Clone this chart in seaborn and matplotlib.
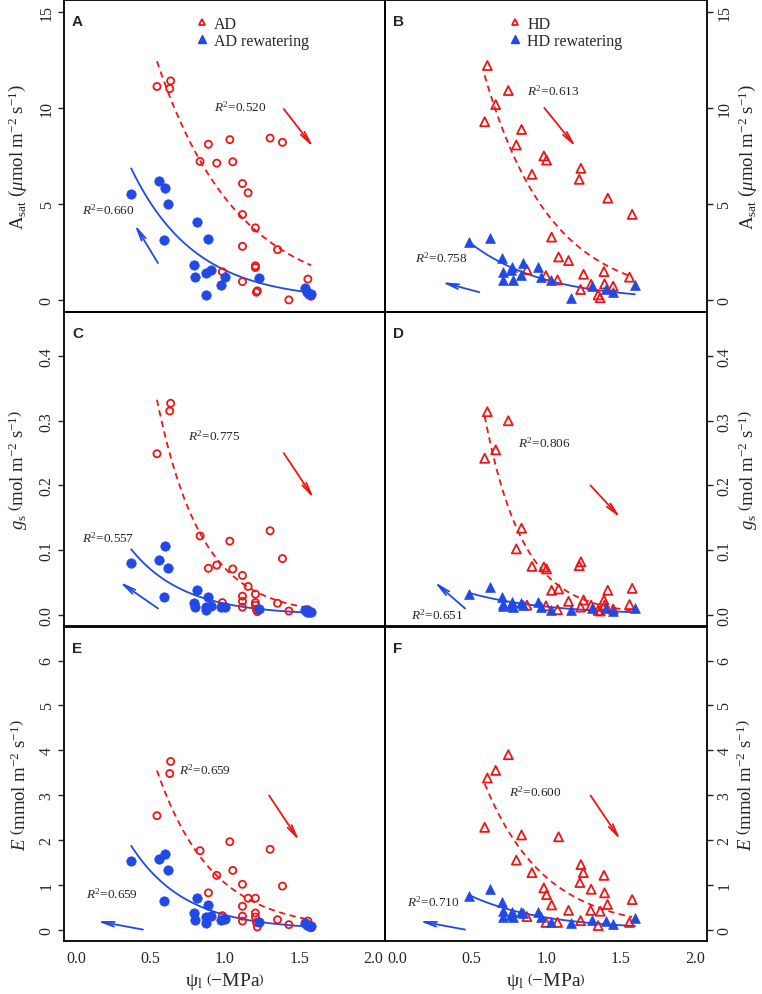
import numpy as np
import pandas as pd
import matplotlib
matplotlib.use('Agg')
import matplotlib.pyplot as plt
from matplotlib.lines import Line2D
import seaborn as sns

# -------------------------
# Data
# -------------------------
# AD leaves (panels A, C, E)
ad_x = [0.543, 0.629, 0.635, 0.833, 0.889, 0.945, 1.033, 1.053, 1.118, 1.156, 1.118, 1.205, 1.118,
        1.205, 1.205, 0.983, 1.118, 1.212, 1.218, 1.304, 1.387, 1.354, 1.430, 1.558, 1.580]
ad_asat = [11.11, 11.0, 11.4, 7.22, 8.11, 7.13, 8.35, 7.2, 6.07, 5.59, 4.46, 3.77, 2.81,
           1.80, 1.71, 1.49, 0.98, 0.43, 0.50, 8.43, 8.21, 2.64, 0.03, 1.11, 0.22]
ad_gs = [0.249, 0.315, 0.327, 0.122, 0.072, 0.077, 0.114, 0.071, 0.061, 0.044, 0.029, 0.032, 0.021,
         0.019, 0.015, 0.019, 0.012, 0.008, 0.005, 0.130, 0.087, 0.018, 0.006, 0.008, 0.004]
ad_e = [2.54, 3.48, 3.75, 1.76, 0.82, 1.21, 1.96, 1.32, 1.01, 0.70, 0.52, 0.70, 0.30,
        0.37, 0.28, 0.31, 0.19, 0.16, 0.06, 1.79, 0.97, 0.22, 0.11, 0.19, 0.04]

# AD rewatering
adr_x = [0.370, 0.554, 0.595, 0.617, 0.593, 0.813, 0.887, 0.795, 0.801, 0.871, 0.909, 0.871, 0.974,
         0.999, 1.226, 1.542, 1.549, 1.567, 1.580]
adr_asat = [5.54, 6.21, 5.83, 5.02, 3.15, 4.05, 3.17, 1.85, 1.20, 1.44, 1.58, 0.26, 0.81,
            1.22, 1.18, 0.67, 0.43, 0.34, 0.31]
adr_gs = [0.080, 0.085, 0.106, 0.072, 0.028, 0.038, 0.028, 0.018, 0.012, 0.012, 0.014, 0.007, 0.012,
          0.012, 0.009, 0.007, 0.005, 0.004, 0.004]
adr_e = [1.52, 1.58, 1.69, 1.34, 0.63, 0.70, 0.55, 0.36, 0.22, 0.28, 0.31, 0.15, 0.21,
         0.24, 0.18, 0.15, 0.11, 0.09, 0.07]

# HD leaves (panels B, D)
hd_x = [0.605, 0.587, 0.661, 0.746, 0.835, 0.800, 0.985, 1.003, 0.905, 1.234, 1.223, 1.415, 1.579, 1.037,
        1.084, 1.151, 0.871, 0.999, 1.077, 1.252, 1.389, 1.561, 1.232, 1.303, 1.393, 1.451, 1.350, 1.364]
hd_asat = [12.2, 9.28, 10.17, 10.9, 8.88, 8.07, 7.5, 7.29, 6.55, 6.86, 6.29, 5.31, 4.47, 3.29,
           2.26, 2.07, 1.60, 1.29, 1.07, 1.36, 1.50, 1.21, 0.57, 0.84, 0.86, 0.74, 0.29, 0.14]
hd_gs = [0.314, 0.242, 0.255, 0.300, 0.134, 0.102, 0.074, 0.071, 0.075, 0.082, 0.076, 0.038, 0.041, 0.038,
         0.040, 0.021, 0.015, 0.014, 0.008, 0.023, 0.023, 0.016, 0.012, 0.015, 0.015, 0.009, 0.007, 0.006]
# HD transpiration (panel F)
hd_e_x = [0.605, 0.587, 0.661, 0.746, 0.835, 0.800, 0.985, 1.003, 0.905, 1.234, 1.227, 1.250, 1.389, 1.393,
          1.303, 1.413, 1.579, 1.037, 1.084, 1.151, 0.871, 0.999, 1.077, 1.561, 1.232, 1.300, 1.364, 1.350]
hd_e = [3.38, 2.28, 3.55, 3.90, 2.11, 1.55, 0.93, 0.78, 1.27, 1.45, 1.05, 1.27, 1.21, 0.82,
        0.90, 0.56, 0.67, 0.55, 2.07, 0.43, 0.29, 0.16, 0.16, 0.16, 0.20, 0.43, 0.41, 0.09]

# HD rewatering
hdr_x = [0.482, 0.625, 0.701, 0.712, 0.708, 0.768, 0.764, 0.777, 0.831, 0.842, 0.947, 0.965, 1.032,
         1.167, 1.306, 1.402, 1.451, 1.597]
hdr_asat = [3.02, 3.22, 2.22, 1.50, 1.07, 1.72, 1.59, 1.07, 1.33, 1.93, 1.72, 1.24, 1.07,
            0.14, 0.74, 0.57, 0.43, 0.81]
hdr_gs = [0.033, 0.043, 0.027, 0.017, 0.013, 0.020, 0.015, 0.012, 0.018, 0.015, 0.020, 0.012, 0.008,
          0.007, 0.011, 0.010, 0.006, 0.011]
hdr_e = [0.75, 0.91, 0.61, 0.41, 0.28, 0.40, 0.33, 0.28, 0.39, 0.36, 0.39, 0.28, 0.16,
         0.15, 0.22, 0.19, 0.13, 0.25]

r2_labels = {'A': ('0.520', '0.660'), 'B': ('0.613', '0.758'),
             'C': ('0.775', '0.557'), 'D': ('0.806', '0.651'),
             'E': ('0.659', '0.659'), 'F': ('0.600', '0.710')}

x_ticks = [0.0, 0.5, 1.0, 1.5, 2.0]

# -------------------------
# Style
# -------------------------
sns.set_style('white')
plt.rcParams['font.family'] = ['Liberation Serif', 'DejaVu Serif']
plt.rcParams['mathtext.fontset'] = 'custom'
plt.rcParams['mathtext.rm'] = 'Liberation Serif'
plt.rcParams['mathtext.it'] = 'Liberation Serif:italic'
plt.rcParams['mathtext.bf'] = 'Liberation Serif:bold'

RED = '#EE1515'
BLUE = '#2149E6'


def exp_fit(x, y):
    # least-squares fit of y = a * exp(b * x)
    x = np.asarray(x, float)
    y = np.asarray(y, float)
    best = None
    for b in np.linspace(-10, 0, 2001):
        e = np.exp(b * x)
        a = (y @ e) / (e @ e)
        sse = ((y - a * e) ** 2).sum()
        if best is None or sse < best[0]:
            best = (sse, a, b)
    xs = np.linspace(x.min(), x.max(), 120)
    return pd.DataFrame({'x': xs, 'y': best[1] * np.exp(best[2] * xs)})


fig = plt.figure(figsize=(7.62, 9.95), dpi=100)
col_x = [0.0844, 0.5059]
col_w = 0.4215
rows = [(0.6854, 0.3136), (0.3693, 0.3161), (0.0530, 0.3164)]

# (letter, row, col, red x, red y, blue x, blue y, red marker, blue marker, ylim, yticks)
panels = [
    ('A', 0, 0, ad_x, ad_asat, adr_x, adr_asat, 'o', 'o', (-0.6, 15.6), [0, 5, 10, 15]),
    ('B', 0, 1, hd_x, hd_asat, hdr_x, hdr_asat, '^', '^', (-0.6, 15.6), [0, 5, 10, 15]),
    ('C', 1, 0, ad_x, ad_gs, adr_x, adr_gs, 'o', 'o', (-0.018, 0.468), [0.0, 0.1, 0.2, 0.3, 0.4]),
    ('D', 1, 1, hd_x, hd_gs, hdr_x, hdr_gs, '^', '^', (-0.018, 0.468), [0.0, 0.1, 0.2, 0.3, 0.4]),
    ('E', 2, 0, ad_x, ad_e, adr_x, adr_e, 'o', 'o', (-0.26, 6.76), [0, 1, 2, 3, 4, 5, 6]),
    ('F', 2, 1, hd_e_x, hd_e, hdr_x, hdr_e, '^', '^', (-0.26, 6.76), [0, 1, 2, 3, 4, 5, 6]),
]

# annotation placement: red R2 text, blue R2 text, red arrow (tail, tip), blue arrow (tail, tip)
annots = {
    'A': ((0.93, 10.06), (0.04, 4.75), ((1.396, 9.94), (1.594, 7.97)), ((0.55, 1.94), (0.393, 3.94))),
    'B': ((0.87, 10.9), (0.12, 2.24), ((0.988, 10.0), (1.20, 7.97)), ((0.551, 0.43), (0.298, 0.95))),
    'C': ((0.75, 0.277), (0.04, 0.120), ((1.396, 0.250), (1.598, 0.180)), ((0.55, 0.010), (0.292, 0.051))),
    'D': ((0.81, 0.267), (0.09, 0.001), ((1.299, 0.200), (1.50, 0.150)), ((0.455, 0.010), (0.249, 0.051))),
    'E': ((0.69, 3.57), (0.063, 0.81), ((1.297, 2.99), (1.50, 1.98)), ((0.449, 0.0), (0.141, 0.19))),
    'F': ((0.75, 3.08), (0.063, 0.64), ((1.299, 2.99), (1.50, 2.0)), ((0.455, 0.0), (0.148, 0.19))),
}

ylabels = [r'A$_{\rm sat}$ $\left(\mu{\rm mol\ m^{-2}\ s^{-1}}\right)$',
           r'$g_{\rm s}$ $\left({\rm mol\ m^{-2}\ s^{-1}}\right)$',
           r'$E$ $\left({\rm mmol\ m^{-2}\ s^{-1}}\right)$']

for letter, r, c, rx, ry, bx, by, rm, bm, ylim, yticks in panels:
    bottom, h = rows[r]
    ax = fig.add_axes([col_x[c], bottom, col_w, h])
    ax.set_facecolor('none')

    # fitted curves
    sns.lineplot(data=exp_fit(rx, ry), x='x', y='y', ax=ax, color=RED, linestyle=(0, (3.5, 2.5)),
                 linewidth=1.3, sort=False)
    sns.lineplot(data=exp_fit(bx, by), x='x', y='y', ax=ax, color=BLUE, linewidth=1.3, sort=False)

    # points
    rs = 26 if rm == 'o' else 42
    bs = 46 if bm == 'o' else 50
    sns.scatterplot(x=rx, y=ry, ax=ax, marker=rm, color=RED, facecolors='none', edgecolor=RED,
                    linewidth=1.3, s=rs, zorder=3)
    sns.scatterplot(x=bx, y=by, ax=ax, marker=bm, color=BLUE, edgecolor=BLUE, linewidth=0.5,
                    s=bs, zorder=4)

    red_txt, blue_txt, red_arr, blue_arr = annots[letter]
    r2r, r2b = r2_labels[letter]
    ax.text(red_txt[0], red_txt[1], r'$R^2$=' + r2r, fontsize=9.5, va='center', ha='left')
    ax.text(blue_txt[0], blue_txt[1], r'$R^2$=' + r2b, fontsize=9.5, va='center', ha='left')
    for (tail, tip), colr in ((red_arr, RED), (blue_arr, BLUE)):
        ax.annotate('', xy=tip, xytext=tail,
                    arrowprops=dict(arrowstyle='->,head_length=0.9,head_width=0.17',
                                    color=colr, lw=1.3, shrinkA=0, shrinkB=0))

    ax.set_xlim(-0.08, 2.08)
    ax.set_ylim(*ylim)
    ax.set_xticks(x_ticks)
    ax.set_yticks(yticks)
    if letter in 'CD':
        ax.set_yticklabels(['%.1f' % v for v in yticks])
    else:
        ax.set_yticklabels(['%g' % v for v in yticks])

    if r == 2:
        ax.set_xticklabels(['%.1f' % v for v in x_ticks])
        ax.set_xlabel('ψ$_{\\rm l}$ $\\left(-{\\rm MPa}\\right)$', fontsize=14, labelpad=3)
    else:
        ax.set_xticklabels([])
        ax.set_xlabel('')
    ax.tick_params(axis='x', direction='in', length=4, width=1, labelsize=11.5, pad=6)

    if c == 0:
        ax.yaxis.set_ticks_position('left')
        pad = 6
    else:
        ax.yaxis.set_ticks_position('right')
        ax.yaxis.set_label_position('right')
        pad = 3
    ax.tick_params(axis='y', direction='out', length=4, width=1, labelsize=11.5, pad=3)
    for lab in ax.get_yticklabels():
        lab.set_rotation(90)
        lab.set_va('center')
    ax.set_ylabel(ylabels[r], fontsize=13.5, labelpad=pad)

    for sp in ax.spines.values():
        sp.set_linewidth(1.3)
        sp.set_color('black')

    ax.text(0.022 if c else 0.024, 0.955, letter, transform=ax.transAxes, fontsize=11,
            fontweight='bold', family='Liberation Sans', va='top', ha='left')

    if r == 0:
        name = 'AD' if c == 0 else 'HD'
        handles = [Line2D([], [], marker='^', ls='', mfc='none', mec=RED, mew=1.3, ms=5),
                   Line2D([], [], marker='^', ls='', mfc=BLUE, mec=BLUE, ms=5.5)]
        ax.legend(handles, [name, name + ' rewatering'], loc='upper left',
                  bbox_to_anchor=(0.37 if c == 0 else 0.345, 0.99), frameon=False, fontsize=11.5,
                  handlelength=0.8, handletextpad=0.35, labelspacing=0.05, borderpad=0.3)

fig.savefig('out.png', dpi=100)
